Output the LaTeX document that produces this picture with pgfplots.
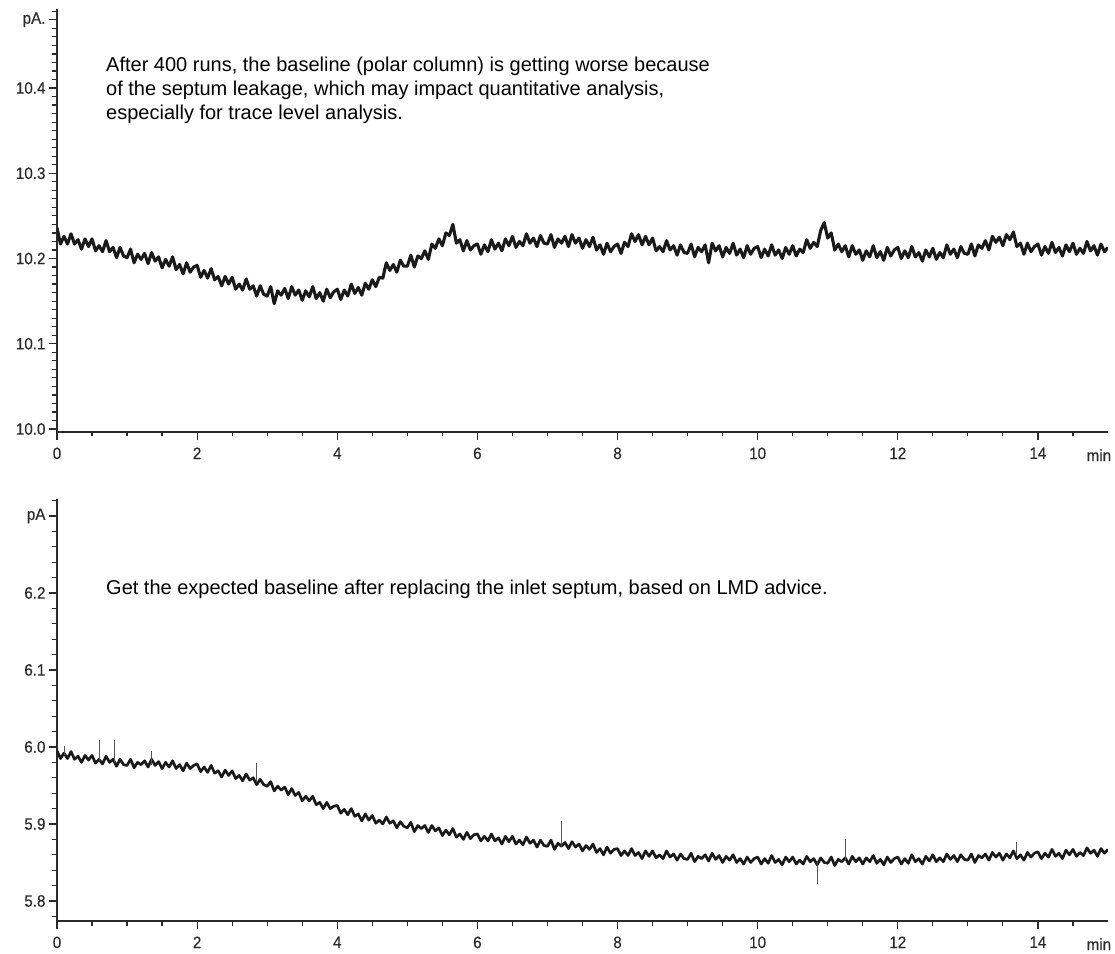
\documentclass[border=0pt]{standalone}
\usepackage{fontspec}
\setmainfont{Liberation Sans}
\newfontfamily\tickfont{Liberation Sans}[FakeStretch=0.92,FakeBold=0.4]
\usepackage{pgfplots}
\pgfplotsset{compat=1.18}
\definecolor{axisgray}{HTML}{2A2A2A}
\definecolor{tracegray}{HTML}{1A1A1A}
\definecolor{spikegray}{HTML}{555555}

\pgfplotsset{
  chrom/.style={
    scale only axis, width=1051pt,
    axis lines=left,
    axis line style={-, line width=1.6pt, draw=axisgray},
    tick align=outside,
    major tick length=8pt, minor tick length=4.5pt,
    tick style={line width=1.2pt, draw=axisgray},
    xmin=0, xmax=15,
    xtick={0,2,...,14},
    minor xtick={0,0.5,...,14.5},
    tick label style={font=\tickfont\fontsize{16.5}{16.5}\selectfont, text=axisgray},
    xticklabel style={yshift=-4pt},
    /pgf/number format/assume math mode=true,
    clip mode=individual,
    trace/.style={tracegray, line width=3.1pt, line join=round, mark=none},
    spike/.style={spikegray, line width=0.9pt, mark=none},
  }
}

\begin{document}
\begin{tikzpicture}
\path[use as bounding box] (0,0) rectangle (1115pt,953pt);

% upper run: after 400 injections
\begin{axis}[chrom,
  at={(57pt,521pt)}, anchor=south west, height=423pt,
  ymin=9.9965, ymax=10.4927,
  ytick={10.0,10.1,10.2,10.3,10.4},
  yticklabels={10.0,10.1,10.2,10.3,10.4},
  minor ytick={10.00,10.01,...,10.49},
  extra y ticks={10.48}, extra y tick labels={pA.},
]
\addplot[trace] coordinates {
(0,10.236)(0.05,10.217)(0.1,10.226)(0.15,10.217)(0.2,10.229)(0.25,10.217)(0.3,10.222)(0.35,10.211)(0.4,10.223)(0.45,10.214)
(0.5,10.223)(0.55,10.209)(0.6,10.215)(0.65,10.208)(0.7,10.221)(0.75,10.208)(0.8,10.213)(0.85,10.201)(0.9,10.213)(0.95,10.203)
(1,10.201)(1.05,10.211)(1.1,10.195)(1.15,10.205)(1.2,10.199)(1.25,10.206)(1.3,10.194)(1.35,10.207)(1.4,10.197)(1.45,10.202)
(1.5,10.189)(1.55,10.199)(1.6,10.191)(1.65,10.202)(1.7,10.187)(1.75,10.193)(1.8,10.182)(1.85,10.195)(1.9,10.184)(1.95,10.190)
(2,10.192)(2.05,10.178)(2.1,10.186)(2.15,10.177)(2.2,10.188)(2.25,10.175)(2.3,10.179)(2.35,10.168)(2.4,10.179)(2.45,10.170)
(2.5,10.178)(2.55,10.164)(2.6,10.170)(2.65,10.163)(2.7,10.176)(2.75,10.164)(2.8,10.168)(2.85,10.156)(2.9,10.168)(2.95,10.158)
(3,10.156)(3.05,10.167)(3.1,10.147)(3.15,10.162)(3.2,10.157)(3.25,10.165)(3.3,10.153)(3.35,10.167)(3.4,10.157)(3.45,10.163)
(3.5,10.151)(3.55,10.162)(3.6,10.155)(3.65,10.167)(3.7,10.153)(3.75,10.160)(3.8,10.150)(3.85,10.164)(3.9,10.154)(3.95,10.161)
(4,10.164)(4.05,10.152)(4.1,10.163)(4.15,10.156)(4.2,10.170)(4.25,10.159)(4.3,10.166)(4.35,10.157)(4.4,10.171)(4.45,10.164)
(4.5,10.175)(4.55,10.167)(4.6,10.178)(4.65,10.177)(4.7,10.195)(4.75,10.186)(4.8,10.193)(4.85,10.184)(4.9,10.198)(4.95,10.191)
(5,10.191)(5.05,10.204)(5.1,10.190)(5.15,10.203)(5.2,10.200)(5.25,10.209)(5.3,10.199)(5.35,10.217)(5.4,10.212)(5.45,10.223)
(5.5,10.215)(5.55,10.230)(5.6,10.227)(5.65,10.240)(5.7,10.218)(5.75,10.222)(5.8,10.209)(5.85,10.221)(5.9,10.210)(5.95,10.215)
(6,10.217)(6.05,10.205)(6.1,10.216)(6.15,10.208)(6.2,10.222)(6.25,10.211)(6.3,10.218)(6.35,10.209)(6.4,10.223)(6.45,10.215)
(6.5,10.226)(6.55,10.213)(6.6,10.220)(6.65,10.215)(6.7,10.229)(6.75,10.218)(6.8,10.224)(6.85,10.214)(6.9,10.227)(6.95,10.218)
(7,10.217)(7.05,10.228)(7.1,10.213)(7.15,10.223)(7.2,10.218)(7.25,10.226)(7.3,10.214)(7.35,10.228)(7.4,10.218)(7.45,10.224)
(7.5,10.212)(7.55,10.222)(7.6,10.214)(7.65,10.225)(7.7,10.210)(7.75,10.216)(7.8,10.205)(7.85,10.218)(7.9,10.208)(7.95,10.214)
(8,10.217)(8.05,10.206)(8.1,10.219)(8.15,10.214)(8.2,10.229)(8.25,10.220)(8.3,10.228)(8.35,10.216)(8.4,10.226)(8.45,10.216)
(8.5,10.224)(8.55,10.209)(8.6,10.214)(8.65,10.208)(8.7,10.221)(8.75,10.210)(8.8,10.215)(8.85,10.204)(8.9,10.216)(8.95,10.207)
(9,10.206)(9.05,10.217)(9.1,10.202)(9.15,10.213)(9.2,10.208)(9.25,10.216)(9.3,10.195)(9.35,10.218)(9.4,10.209)(9.45,10.215)
(9.5,10.202)(9.55,10.213)(9.6,10.206)(9.65,10.218)(9.7,10.204)(9.75,10.211)(9.8,10.201)(9.85,10.215)(9.9,10.205)(9.95,10.212)
(10,10.214)(10.05,10.201)(10.1,10.211)(10.15,10.203)(10.2,10.216)(10.25,10.204)(10.3,10.210)(10.35,10.200)(10.4,10.213)(10.45,10.205)
(10.5,10.215)(10.55,10.203)(10.6,10.211)(10.65,10.207)(10.7,10.222)(10.75,10.212)(10.8,10.219)(10.85,10.214)(10.9,10.233)(10.95,10.242)
(11,10.224)(11.05,10.230)(11.1,10.210)(11.15,10.217)(11.2,10.208)(11.25,10.215)(11.3,10.202)(11.35,10.215)(11.4,10.205)(11.45,10.210)
(11.5,10.198)(11.55,10.209)(11.6,10.202)(11.65,10.215)(11.7,10.201)(11.75,10.208)(11.8,10.198)(11.85,10.213)(11.9,10.203)(11.95,10.210)
(12,10.213)(12.05,10.200)(12.1,10.209)(12.15,10.201)(12.2,10.214)(12.25,10.202)(12.3,10.207)(12.35,10.197)(12.4,10.210)(12.45,10.202)
(12.5,10.212)(12.55,10.199)(12.6,10.207)(12.65,10.201)(12.7,10.216)(12.75,10.205)(12.8,10.211)(12.85,10.201)(12.9,10.214)(12.95,10.206)
(13,10.205)(13.05,10.217)(13.1,10.203)(13.15,10.216)(13.2,10.212)(13.25,10.221)(13.3,10.210)(13.35,10.226)(13.4,10.219)(13.45,10.225)
(13.5,10.215)(13.55,10.228)(13.6,10.222)(13.65,10.231)(13.7,10.214)(13.75,10.218)(13.8,10.205)(13.85,10.218)(13.9,10.208)(13.95,10.214)
(14,10.217)(14.05,10.204)(14.1,10.214)(14.15,10.206)(14.2,10.219)(14.25,10.207)(14.3,10.213)(14.35,10.203)(14.4,10.216)(14.45,10.208)
(14.5,10.218)(14.55,10.205)(14.6,10.212)(14.65,10.206)(14.7,10.220)(14.75,10.209)(14.8,10.215)(14.85,10.204)(14.9,10.217)(14.95,10.208)
(15,10.213)
};
\node[anchor=north, inner sep=0pt, font=\tickfont\fontsize{16.5}{16.5}\selectfont, text=axisgray]
  at (axis cs:14.87,9.9965) [yshift=-17pt] {min};
\end{axis}

% lower run: after replacing the septum
\begin{axis}[chrom,
  at={(57pt,32pt)}, anchor=south west, height=422pt,
  ymin=5.774, ymax=6.322,
  ytick={5.8,5.9,6.0,6.1,6.2},
  yticklabels={5.8,5.9,6.0,6.1,6.2},
  minor ytick={5.78,5.80,...,6.32},
  extra y ticks={6.30}, extra y tick labels={pA},
]
\addplot[trace, line width=2.7pt] coordinates {
(0,5.995)(0.05,5.985)(0.1,5.992)(0.15,5.985)(0.2,5.994)(0.25,5.984)(0.3,5.988)(0.35,5.980)(0.4,5.989)(0.45,5.983)
(0.5,5.989)(0.55,5.979)(0.6,5.984)(0.65,5.978)(0.7,5.988)(0.75,5.980)(0.8,5.984)(0.85,5.975)(0.9,5.984)(0.95,5.977)
(1,5.976)(1.05,5.984)(1.1,5.973)(1.15,5.980)(1.2,5.977)(1.25,5.982)(1.3,5.974)(1.35,5.984)(1.4,5.976)(1.45,5.981)
(1.5,5.972)(1.55,5.980)(1.6,5.974)(1.65,5.982)(1.7,5.972)(1.75,5.977)(1.8,5.969)(1.85,5.979)(1.9,5.972)(1.95,5.976)
(2,5.978)(2.05,5.968)(2.1,5.974)(2.15,5.967)(2.2,5.976)(2.25,5.966)(2.3,5.969)(2.35,5.961)(2.4,5.970)(2.45,5.963)
(2.5,5.969)(2.55,5.959)(2.6,5.963)(2.65,5.956)(2.7,5.965)(2.75,5.957)(2.8,5.960)(2.85,5.951)(2.9,5.958)(2.95,5.951)
(3,5.949)(3.05,5.955)(3.1,5.943)(3.15,5.949)(3.2,5.944)(3.25,5.948)(3.3,5.938)(3.35,5.946)(3.4,5.937)(3.45,5.941)
(3.5,5.930)(3.55,5.936)(3.6,5.930)(3.65,5.936)(3.7,5.925)(3.75,5.928)(3.8,5.920)(3.85,5.928)(3.9,5.920)(3.95,5.923)
(4,5.924)(4.05,5.914)(4.1,5.919)(4.15,5.912)(4.2,5.920)(4.25,5.910)(4.3,5.913)(4.35,5.904)(4.4,5.913)(4.45,5.905)
(4.5,5.911)(4.55,5.901)(4.6,5.905)(4.65,5.900)(4.7,5.909)(4.75,5.901)(4.8,5.904)(4.85,5.895)(4.9,5.903)(4.95,5.897)
(5,5.895)(5.05,5.902)(5.1,5.890)(5.15,5.898)(5.2,5.894)(5.25,5.898)(5.3,5.889)(5.35,5.898)(5.4,5.891)(5.45,5.895)
(5.5,5.885)(5.55,5.892)(5.6,5.886)(5.65,5.894)(5.7,5.883)(5.75,5.887)(5.8,5.880)(5.85,5.889)(5.9,5.881)(5.95,5.886)
(6,5.887)(6.05,5.878)(6.1,5.884)(6.15,5.878)(6.2,5.887)(6.25,5.878)(6.3,5.882)(6.35,5.874)(6.4,5.884)(6.45,5.877)
(6.5,5.884)(6.55,5.874)(6.6,5.879)(6.65,5.873)(6.7,5.883)(6.75,5.875)(6.8,5.879)(6.85,5.870)(6.9,5.879)(6.95,5.872)
(7,5.871)(7.05,5.879)(7.1,5.867)(7.15,5.875)(7.2,5.871)(7.25,5.876)(7.3,5.868)(7.35,5.877)(7.4,5.870)(7.45,5.874)
(7.5,5.865)(7.55,5.872)(7.6,5.867)(7.65,5.874)(7.7,5.863)(7.75,5.868)(7.8,5.860)(7.85,5.870)(7.9,5.862)(7.95,5.867)
(8,5.868)(8.05,5.859)(8.1,5.865)(8.15,5.859)(8.2,5.868)(8.25,5.859)(8.3,5.863)(8.35,5.855)(8.4,5.865)(8.45,5.858)
(8.5,5.865)(8.55,5.856)(8.6,5.860)(8.65,5.855)(8.7,5.865)(8.75,5.857)(8.8,5.861)(8.85,5.853)(8.9,5.861)(8.95,5.855)
(9,5.854)(9.05,5.862)(9.1,5.851)(9.15,5.858)(9.2,5.855)(9.25,5.860)(9.3,5.852)(9.35,5.862)(9.4,5.854)(9.45,5.859)
(9.5,5.850)(9.55,5.858)(9.6,5.853)(9.65,5.860)(9.7,5.850)(9.75,5.855)(9.8,5.848)(9.85,5.857)(9.9,5.850)(9.95,5.855)
(10,5.857)(10.05,5.848)(10.1,5.855)(10.15,5.849)(10.2,5.859)(10.25,5.850)(10.3,5.854)(10.35,5.847)(10.4,5.857)(10.45,5.851)
(10.5,5.857)(10.55,5.848)(10.6,5.853)(10.65,5.848)(10.7,5.858)(10.75,5.851)(10.8,5.855)(10.85,5.847)(10.9,5.856)(10.95,5.850)
(11,5.849)(11.05,5.857)(11.1,5.846)(11.15,5.854)(11.2,5.851)(11.25,5.856)(11.3,5.848)(11.35,5.858)(11.4,5.851)(11.45,5.856)
(11.5,5.848)(11.55,5.856)(11.6,5.851)(11.65,5.859)(11.7,5.849)(11.75,5.854)(11.8,5.847)(11.85,5.857)(11.9,5.850)(11.95,5.855)
(12,5.857)(12.05,5.848)(12.1,5.855)(12.15,5.849)(12.2,5.860)(12.25,5.851)(12.3,5.855)(12.35,5.848)(12.4,5.858)(12.45,5.852)
(12.5,5.860)(12.55,5.851)(12.6,5.856)(12.65,5.851)(12.7,5.861)(12.75,5.854)(12.8,5.859)(12.85,5.851)(12.9,5.860)(12.95,5.854)
(13,5.853)(13.05,5.861)(13.1,5.850)(13.15,5.859)(13.2,5.856)(13.25,5.861)(13.3,5.853)(13.35,5.863)(13.4,5.857)(13.45,5.862)
(13.5,5.853)(13.55,5.861)(13.6,5.856)(13.65,5.865)(13.7,5.855)(13.75,5.860)(13.8,5.853)(13.85,5.863)(13.9,5.857)(13.95,5.862)
(14,5.864)(14.05,5.855)(14.1,5.862)(14.15,5.857)(14.2,5.867)(14.25,5.858)(14.3,5.862)(14.35,5.855)(14.4,5.866)(14.45,5.860)
(14.5,5.867)(14.55,5.858)(14.6,5.863)(14.65,5.859)(14.7,5.869)(14.75,5.862)(14.8,5.866)(14.85,5.858)(14.9,5.868)(14.95,5.862)
(15,5.867)
};
% single-point spikes on the baseline
\addplot[spike] coordinates {(0.10,5.990)(0.10,6.001)};
\addplot[spike] coordinates {(0.60,5.982)(0.60,6.009)};
\addplot[spike] coordinates {(0.82,5.980)(0.82,6.009)};
\addplot[spike] coordinates {(1.35,5.977)(1.35,5.995)};
\addplot[spike] coordinates {(2.85,5.955)(2.85,5.979)};
\addplot[spike] coordinates {(7.20,5.870)(7.20,5.904)};
\addplot[spike] coordinates {(10.85,5.850)(10.85,5.822)};
\addplot[spike] coordinates {(11.25,5.853)(11.25,5.881)};
\addplot[spike] coordinates {(13.70,5.858)(13.70,5.876)};
\node[anchor=north, inner sep=0pt, font=\tickfont\fontsize{16.5}{16.5}\selectfont, text=axisgray]
  at (axis cs:14.87,5.774) [yshift=-17pt] {min};
\end{axis}

% annotations
\begin{scope}[every node/.style={anchor=base west, inner sep=0pt, font=\fontsize{20}{24}\selectfont, text=black}]
\node at (106pt,881pt) {After 400 runs, the baseline (polar column) is getting worse because};
\node at (106pt,857pt) {of the septum leakage, which may impact quantitative analysis,};
\node at (106pt,833pt) {especially for trace level analysis.};
\node at (106pt,358pt) {Get the expected baseline after replacing the inlet septum, based on LMD advice.};
\end{scope}
\end{tikzpicture}
\end{document}
